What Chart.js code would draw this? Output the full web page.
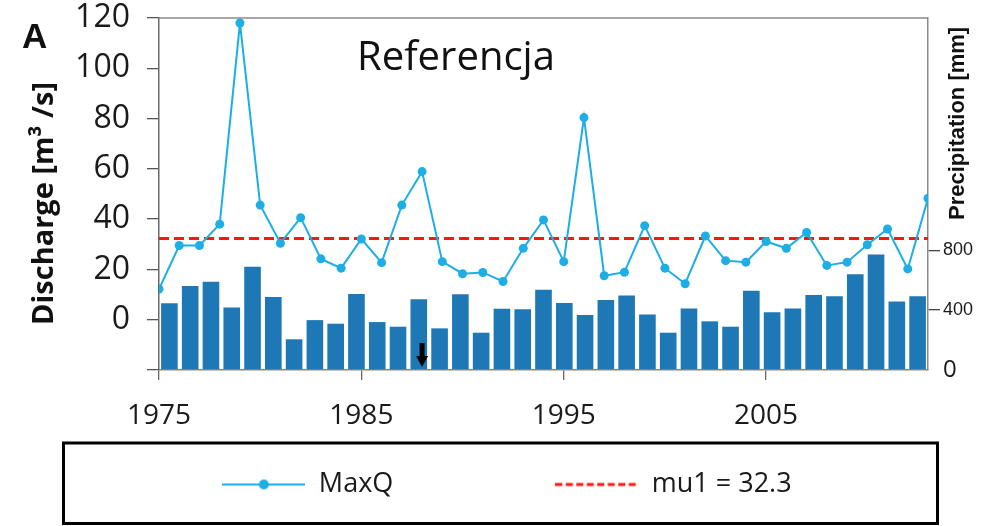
<!DOCTYPE html>
<html>
<head>
<meta charset="utf-8">
<script src="https://cdn.jsdelivr.net/npm/chart.js@4/dist/chart.umd.min.js"></script>
<style>
  html, body { margin: 0; padding: 0; background: #ffffff; }
  #wrap { width: 994px; height: 526px; position: relative; }
</style>
</head>
<body>
<div id="wrap"><canvas id="chart" width="994" height="526"></canvas></div>
<script>
// Annual maximum discharge (m3/s), one value per year
const years = [1975, 1976, 1977, 1978, 1979, 1980, 1981, 1982, 1983, 1984,
               1985, 1986, 1987, 1988, 1989, 1990, 1991, 1992, 1993, 1994,
               1995, 1996, 1997, 1998, 1999, 2000, 2001, 2002, 2003, 2004,
               2005, 2006, 2007, 2008, 2009, 2010, 2011, 2012, 2013];
const maxQ = [12.2, 29.5, 29.5, 38.0, 118.0, 45.6, 30.4, 40.6, 24.2, 20.5,
              32.1, 22.7, 45.6, 58.9, 23.1, 18.3, 18.8, 15.2, 28.4, 39.7,
              23.1, 80.4, 17.5, 18.9, 37.4, 20.5, 14.3, 33.3, 23.5, 22.9,
              31.1, 28.4, 34.7, 21.6, 22.9, 29.8, 36.1, 20.2, 48.3];

// Annual precipitation (mm), drawn as bars on the right-hand axis
const precipYears = ['1975', '1976', '1977', '1978', '1979', '1980', '1981', '1982', '1983', '1984',
                     '1985', '1986', '1987', '1988', '1989', '1990', '1991', '1992', '1993', '1994',
                     '1995', '1996', '1997', '1998', '1999', '2000', '2001', '2002', '2003', '2004',
                     '2005', '2006', '2007', '2008', '2009', '2010', '2011'];
const precip = [445, 560, 589, 418, 689, 487, 205, 333, 309, 507,
                320, 289, 473, 278, 505, 249, 409, 405, 535, 447,
                367, 467, 498, 371, 249, 411, 325, 289, 529, 385,
                411, 500, 493, 640, 771, 458, 493];

// Mean of the series and the year marked with an arrow
const mu1 = 32.3;
const arrowYear = 1988;

// Tick labels
const xTickValues = [1975, 1985, 1995, 2005];
const yTickValues = [-20, 0, 20, 40, 60, 80, 100, 120];
const y1TickValues = [0, 400, 800];

const LINE_BLUE = '#1daee6';
const BAR_BLUE = '#1f78b6';
const RED = '#ff1414';

// Small legend samples: a line with a dot, and a red dashed segment
function makeSample(kind) {
  const c = document.createElement('canvas');
  c.width = 83; c.height = 14;
  const g = c.getContext('2d');
  g.lineWidth = kind === 'dash' ? 3 : 2;
  if (kind === 'dash') {
    g.strokeStyle = RED;
    g.setLineDash([7, 3.5]);
  } else {
    g.strokeStyle = LINE_BLUE;
  }
  g.beginPath(); g.moveTo(0, 7); g.lineTo(83, 7); g.stroke();
  if (kind !== 'dash') {
    g.fillStyle = LINE_BLUE;
    g.beginPath(); g.arc(41.5, 7, 5, 0, Math.PI * 2); g.fill();
  }
  return c;
}
const samples = [makeSample('line'), makeSample('dash')];

const LEGEND_ROW_Y = 484.5;
const LEGEND_FONT = 27;
const LEGEND_GAP = 162;

// Places the legend row inside its framed box
const legendPlace = {
  id: 'legendPlace',
  afterLayout(chart) {
    const lg = chart.legend;
    if (!lg) return;
    lg.top = LEGEND_ROW_Y - LEGEND_GAP - LEGEND_FONT / 2;
    lg.bottom = chart.height;
    lg.left += 10;
    lg.right += 10;
  }
};

// Frame, titles, panel letter, annotation arrow and the legend frame
const decor = {
  id: 'decor',
  afterDraw(chart) {
    const { ctx, chartArea: a } = chart;
    ctx.save();

    ctx.strokeStyle = '#8a8a8a';
    ctx.lineWidth = 1.5;
    ctx.beginPath();
    ctx.moveTo(a.left, a.top);
    ctx.lineTo(a.right, a.top);
    ctx.stroke();

    ctx.fillStyle = '#111111';
    ctx.font = 'bold 35px "Liberation Sans"';
    ctx.textAlign = 'left';
    ctx.textBaseline = 'alphabetic';
    ctx.fillText('A', 22, 48);

    ctx.font = '40px "Open Sans"';
    ctx.fillText('Referencja', 357, 70);

    ctx.save();
    ctx.translate(53, 203.5);
    ctx.rotate(-Math.PI / 2);
    ctx.textAlign = 'center';
    ctx.font = 'bold 29px "Open Sans"';
    ctx.fillText('Discharge [m\u00B3 /s]', 0, 0);
    ctx.restore();

    ctx.save();
    ctx.translate(964, 123.4);
    ctx.rotate(-Math.PI / 2);
    ctx.textAlign = 'center';
    ctx.font = 'bold 22px "Liberation Sans"';
    ctx.fillText('Precipitation [mm]', 0, 0);
    ctx.restore();

    const ax = chart.scales.x.getPixelForValue(arrowYear);
    ctx.fillStyle = '#000000';
    ctx.beginPath();
    ctx.moveTo(ax - 2.5, 343);
    ctx.lineTo(ax + 2.5, 343);
    ctx.lineTo(ax + 2.5, 356);
    ctx.lineTo(ax + 6, 356);
    ctx.lineTo(ax, 367);
    ctx.lineTo(ax - 6, 356);
    ctx.lineTo(ax - 2.5, 356);
    ctx.closePath();
    ctx.fill();

    ctx.strokeStyle = '#000000';
    ctx.lineWidth = 3;
    ctx.strokeRect(63.5, 443, 874, 80.5);
    ctx.restore();
  }
};

// Vertical axes: fixed widths, no extra room reserved for the end labels
const fixVertical = (w) => (s) => { s.width = w; s.paddingTop = 0; s.paddingBottom = 0; };

new Chart(document.getElementById('chart'), {
  type: 'line',
  data: {
    datasets: [
      {
        type: 'line',
        label: 'MaxQ',
        data: years.map((yr, i) => ({ x: yr, y: maxQ[i] })),
        xAxisID: 'x',
        yAxisID: 'y',
        borderColor: LINE_BLUE,
        backgroundColor: LINE_BLUE,
        borderWidth: 2,
        pointRadius: 4.5,
        pointBackgroundColor: LINE_BLUE,
        pointBorderWidth: 0,
        tension: 0,
        order: 0
      },
      {
        type: 'line',
        label: 'mu1 = ' + mu1,
        data: [{ x: years[0], y: mu1 }, { x: years[years.length - 1], y: mu1 }],
        xAxisID: 'x',
        yAxisID: 'y',
        borderColor: RED,
        backgroundColor: RED,
        borderWidth: 3,
        borderDash: [10, 5],
        pointRadius: 0,
        order: 1
      },
      {
        type: 'bar',
        label: 'Precipitation',
        data: precip,
        xAxisID: 'xb',
        yAxisID: 'y1',
        backgroundColor: BAR_BLUE,
        borderWidth: 0,
        grouped: false,
        barPercentage: 1.0,
        categoryPercentage: 0.8,
        order: 2
      }
    ]
  },
  options: {
    responsive: false,
    animation: false,
    events: [],
    layout: { padding: { top: 18, left: 0, right: 0, bottom: 0 } },
    plugins: {
      tooltip: { enabled: false },
      legend: {
        display: true,
        position: 'bottom',
        fullSize: true,
        maxHeight: 80,
        labels: {
          usePointStyle: true,
          pointStyleWidth: 83,
          padding: LEGEND_GAP,
          color: '#1a1a1a',
          font: { family: 'Open Sans', size: LEGEND_FONT },
          filter: (item) => item.datasetIndex !== 2,
          generateLabels(chart) {
            const items = Chart.defaults.plugins.legend.labels.generateLabels(chart);
            return items.map(it => Object.assign({}, it, {
              pointStyle: samples[it.datasetIndex] || it.pointStyle
            }));
          }
        }
      }
    },
    scales: {
      x: {
        type: 'linear',
        position: 'bottom',
        min: years[0],
        max: years[years.length - 1],
        offset: false,
        afterBuildTicks: (s) => { s.ticks = xTickValues.map(v => ({ value: v })); },
        afterFit: (s) => { s.height = 76; },
        grid: { drawOnChartArea: false, drawTicks: true, tickLength: 10, color: '#666666', lineWidth: 1.3, offset: false },
        border: { display: true, color: '#8a8a8a', width: 1.5 },
        ticks: {
          font: { family: 'Open Sans', size: 28 },
          color: '#1a1a1a',
          padding: 19,
          maxRotation: 0,
          autoSkip: false,
          callback: (v) => String(v)
        }
      },
      xb: {
        type: 'category',
        position: 'bottom',
        labels: precipYears,
        offset: true,
        display: false,
        grid: { offset: true },
        ticks: { autoSkip: false }
      },
      y: {
        type: 'linear',
        position: 'left',
        min: yTickValues[0],
        max: yTickValues[yTickValues.length - 1],
        afterBuildTicks: (s) => { s.ticks = yTickValues.map(v => ({ value: v })); },
        afterFit: fixVertical(159),
        grid: { drawOnChartArea: false, drawTicks: true, tickLength: 12, color: '#555555', lineWidth: 1.3 },
        border: { display: true, color: '#6a6a6a', width: 1.5 },
        ticks: {
          font: { family: 'Open Sans', size: 32 },
          color: '#1a1a1a',
          padding: 17,
          callback: (v) => (v < 0 ? '' : String(v))
        }
      },
      y1: {
        type: 'linear',
        position: 'right',
        min: 0,
        max: 2350,
        afterBuildTicks: (s) => { s.ticks = y1TickValues.map(v => ({ value: v })); },
        afterFit: fixVertical(66),
        grid: {
          drawOnChartArea: false,
          drawTicks: true,
          tickLength: 12,
          lineWidth: 1.3,
          color: (c) => (c.tick && c.tick.value === 0 ? 'rgba(0,0,0,0)' : '#444444')
        },
        border: { display: true, color: '#8a8a8a', width: 1.5 },
        ticks: {
          color: '#1a1a1a',
          padding: 3,
          font: (c) => (c.tick && c.tick.value === 0
            ? { family: 'Open Sans', size: 24 }
            : { family: 'Liberation Sans', size: 18 }),
          callback: (v) => String(v)
        }
      }
    }
  },
  plugins: [legendPlace, decor]
});
</script>
</body>
</html>
